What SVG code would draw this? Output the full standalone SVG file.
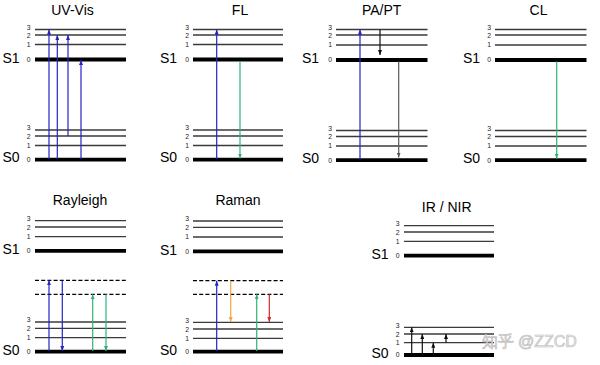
<svg xmlns="http://www.w3.org/2000/svg" width="600" height="365" viewBox="0 0 600 365">
<style>
  text { font-family: "Liberation Sans", Arial, sans-serif; fill: #000; }
  .title { font-size: 14px; text-anchor: middle; }
  .st { font-size: 14px; }
  .dg { font-size: 6.8px; text-anchor: end; fill: #222; }
  .thin { stroke: #3a3a3a; stroke-width: 1.3; fill: none; }
  .thick { stroke: #000; stroke-width: 3.8; fill: none; }
  .dash { stroke: #000; stroke-width: 1.2; stroke-dasharray: 4 2.2; fill: none; }
  .ar { stroke-width: 1.2; fill: none; }
  .blue { stroke: #2424c4; marker-end: url(#mBlue); }
  .green { stroke: #2fb279; marker-end: url(#mGreen); }
  .black { stroke: #111; marker-end: url(#mBlack); }
  .gray { stroke: #5a5a5a; marker-end: url(#mGray); }
  .orange { stroke: #f2a446; marker-end: url(#mOrange); }
  .red { stroke: #d42a2a; marker-end: url(#mRed); }
  .wm { font-size: 16px; fill: #ececec; stroke: #b8b8b8; stroke-width: 0.6; }
</style>
<defs>
  <marker id="mBlue" viewBox="0 0 10 8" refX="10" refY="4" markerWidth="5" markerHeight="4" markerUnits="userSpaceOnUse" orient="auto"><path d="M0,0 L10,4 L0,8 z" fill="#2424c4"/></marker>
  <marker id="mGreen" viewBox="0 0 10 8" refX="10" refY="4" markerWidth="5" markerHeight="4" markerUnits="userSpaceOnUse" orient="auto"><path d="M0,0 L10,4 L0,8 z" fill="#2fb279"/></marker>
  <marker id="mBlack" viewBox="0 0 10 8" refX="10" refY="4" markerWidth="5" markerHeight="4" markerUnits="userSpaceOnUse" orient="auto"><path d="M0,0 L10,4 L0,8 z" fill="#111"/></marker>
  <marker id="mGray" viewBox="0 0 10 8" refX="10" refY="4" markerWidth="5" markerHeight="4" markerUnits="userSpaceOnUse" orient="auto"><path d="M0,0 L10,4 L0,8 z" fill="#5a5a5a"/></marker>
  <marker id="mOrange" viewBox="0 0 10 8" refX="10" refY="4" markerWidth="5" markerHeight="4" markerUnits="userSpaceOnUse" orient="auto"><path d="M0,0 L10,4 L0,8 z" fill="#f2a446"/></marker>
  <marker id="mRed" viewBox="0 0 10 8" refX="10" refY="4" markerWidth="5" markerHeight="4" markerUnits="userSpaceOnUse" orient="auto"><path d="M0,0 L10,4 L0,8 z" fill="#d42a2a"/></marker>
</defs>

<!-- UV-Vis -->
<g id="uvvis">
  <text class="title" x="72.5" y="15">UV-Vis</text>
  <line class="thin" x1="35" y1="29.5" x2="126" y2="29.5"/>
  <line class="thin" x1="35" y1="35" x2="126" y2="35"/>
  <line class="thin" x1="35" y1="44.5" x2="126" y2="44.5"/>
  <line class="thick" x1="35" y1="59.5" x2="126" y2="59.5"/>
  <line class="thin" x1="35" y1="130" x2="126" y2="130"/>
  <line class="thin" x1="35" y1="136" x2="126" y2="136"/>
  <line class="thin" x1="35" y1="145.5" x2="126" y2="145.5"/>
  <line class="thick" x1="35" y1="159.7" x2="126" y2="159.7"/>
  <text class="dg" x="30.5" y="29.9">3</text><text class="dg" x="30.5" y="37.7">2</text><text class="dg" x="30.5" y="46.9">1</text><text class="dg" x="30.5" y="61.9">0</text>
  <text class="dg" x="30.5" y="130.4">3</text><text class="dg" x="30.5" y="138.7">2</text><text class="dg" x="30.5" y="147.9">1</text><text class="dg" x="30.5" y="162.1">0</text>
  <text class="st" x="2.5" y="62.7">S1</text>
  <text class="st" x="2.5" y="162">S0</text>
</g>

<!-- FL -->
<g id="fl">
  <text class="title" x="240" y="15">FL</text>
  <line class="thin" x1="193" y1="29.5" x2="283" y2="29.5"/>
  <line class="thin" x1="193" y1="35" x2="283" y2="35"/>
  <line class="thin" x1="193" y1="44.5" x2="283" y2="44.5"/>
  <line class="thick" x1="193" y1="59.5" x2="283" y2="59.5"/>
  <line class="thin" x1="193" y1="130" x2="283" y2="130"/>
  <line class="thin" x1="193" y1="136" x2="283" y2="136"/>
  <line class="thin" x1="193" y1="145.5" x2="283" y2="145.5"/>
  <line class="thick" x1="193" y1="159.7" x2="283" y2="159.7"/>
  <text class="dg" x="189" y="29.9">3</text><text class="dg" x="189" y="37.7">2</text><text class="dg" x="189" y="46.9">1</text><text class="dg" x="189" y="61.9">0</text>
  <text class="dg" x="189" y="130.4">3</text><text class="dg" x="189" y="138.7">2</text><text class="dg" x="189" y="147.9">1</text><text class="dg" x="189" y="162.1">0</text>
  <text class="st" x="160" y="62.7">S1</text>
  <text class="st" x="160" y="162">S0</text>
</g>

<!-- PA/PT -->
<g id="papt">
  <text class="title" x="381.7" y="15">PA/PT</text>
  <line class="thin" x1="336" y1="29.5" x2="427.5" y2="29.5"/>
  <line class="thin" x1="336" y1="35" x2="427.5" y2="35"/>
  <line class="thin" x1="336" y1="45" x2="427.5" y2="45"/>
  <line class="thick" x1="336" y1="60" x2="427.5" y2="60"/>
  <line class="thin" x1="336" y1="130.5" x2="427.5" y2="130.5"/>
  <line class="thin" x1="336" y1="136.5" x2="427.5" y2="136.5"/>
  <line class="thin" x1="336" y1="146" x2="427.5" y2="146"/>
  <line class="thick" x1="336" y1="160.2" x2="427.5" y2="160.2"/>
  <text class="dg" x="332" y="29.9">3</text><text class="dg" x="332" y="37.7">2</text><text class="dg" x="332" y="47.4">1</text><text class="dg" x="332" y="62.4">0</text>
  <text class="dg" x="332" y="130.9">3</text><text class="dg" x="332" y="139.2">2</text><text class="dg" x="332" y="148.4">1</text><text class="dg" x="332" y="162.6">0</text>
  <text class="st" x="302" y="63.2">S1</text>
  <text class="st" x="302" y="162.5">S0</text>
</g>

<!-- CL -->
<g id="cl">
  <text class="title" x="538.5" y="15">CL</text>
  <line class="thin" x1="495" y1="29.5" x2="586.5" y2="29.5"/>
  <line class="thin" x1="495" y1="35" x2="586.5" y2="35"/>
  <line class="thin" x1="495" y1="45" x2="586.5" y2="45"/>
  <line class="thick" x1="495" y1="60" x2="586.5" y2="60"/>
  <line class="thin" x1="495" y1="130.5" x2="586.5" y2="130.5"/>
  <line class="thin" x1="495" y1="136.5" x2="586.5" y2="136.5"/>
  <line class="thin" x1="495" y1="146" x2="586.5" y2="146"/>
  <line class="thick" x1="495" y1="160.2" x2="586.5" y2="160.2"/>
  <text class="dg" x="491" y="29.9">3</text><text class="dg" x="491" y="37.7">2</text><text class="dg" x="491" y="47.4">1</text><text class="dg" x="491" y="62.4">0</text>
  <text class="dg" x="491" y="130.9">3</text><text class="dg" x="491" y="139.2">2</text><text class="dg" x="491" y="148.4">1</text><text class="dg" x="491" y="162.6">0</text>
  <text class="st" x="463" y="63.2">S1</text>
  <text class="st" x="463" y="162.5">S0</text>
</g>

<!-- Rayleigh -->
<g id="rayleigh">
  <text class="title" x="80" y="204.5">Rayleigh</text>
  <line class="thin" x1="35" y1="220.7" x2="126" y2="220.7"/>
  <line class="thin" x1="35" y1="227" x2="126" y2="227"/>
  <line class="thin" x1="35" y1="236.7" x2="126" y2="236.7"/>
  <line class="thick" x1="35" y1="250.8" x2="126" y2="250.8"/>
  <line class="dash" x1="35" y1="280.3" x2="126" y2="280.3"/>
  <line class="dash" x1="35" y1="294.3" x2="126" y2="294.3"/>
  <line class="thin" x1="35" y1="322" x2="126" y2="322"/>
  <line class="thin" x1="35" y1="328.3" x2="126" y2="328.3"/>
  <line class="thin" x1="35" y1="337.7" x2="126" y2="337.7"/>
  <line class="thick" x1="35" y1="351.7" x2="126" y2="351.7"/>
  <text class="dg" x="30.5" y="221.1">3</text><text class="dg" x="30.5" y="229.7">2</text><text class="dg" x="30.5" y="239.1">1</text><text class="dg" x="30.5" y="253.2">0</text>
  <text class="dg" x="30.5" y="322.4">3</text><text class="dg" x="30.5" y="331">2</text><text class="dg" x="30.5" y="340.1">1</text><text class="dg" x="30.5" y="354.1">0</text>
  <text class="st" x="2.5" y="254">S1</text>
  <text class="st" x="2.5" y="355">S0</text>
</g>

<!-- Raman -->
<g id="raman">
  <text class="title" x="238" y="204.5">Raman</text>
  <line class="thin" x1="193" y1="221" x2="283" y2="221"/>
  <line class="thin" x1="193" y1="227.3" x2="283" y2="227.3"/>
  <line class="thin" x1="193" y1="237" x2="283" y2="237"/>
  <line class="thick" x1="193" y1="251.3" x2="283" y2="251.3"/>
  <line class="dash" x1="193" y1="280.7" x2="283" y2="280.7"/>
  <line class="dash" x1="193" y1="294.3" x2="283" y2="294.3"/>
  <line class="thin" x1="193" y1="322.3" x2="283" y2="322.3"/>
  <line class="thin" x1="193" y1="329" x2="283" y2="329"/>
  <line class="thin" x1="193" y1="338.3" x2="283" y2="338.3"/>
  <line class="thick" x1="193" y1="351.7" x2="283" y2="351.7"/>
  <text class="dg" x="189" y="221.4">3</text><text class="dg" x="189" y="230">2</text><text class="dg" x="189" y="239.4">1</text><text class="dg" x="189" y="253.7">0</text>
  <text class="dg" x="189" y="322.7">3</text><text class="dg" x="189" y="331.7">2</text><text class="dg" x="189" y="340.7">1</text><text class="dg" x="189" y="354.1">0</text>
  <text class="st" x="160" y="255">S1</text>
  <text class="st" x="160" y="355">S0</text>
</g>

<!-- IR / NIR -->
<g id="irnir">
  <text class="title" x="446.7" y="211.5">IR / NIR</text>
  <line class="thin" x1="404" y1="225.7" x2="494" y2="225.7"/>
  <line class="thin" x1="404" y1="232" x2="494" y2="232"/>
  <line class="thin" x1="404" y1="241.3" x2="494" y2="241.3"/>
  <line class="thick" x1="404" y1="255.7" x2="494" y2="255.7"/>
  <line class="thin" x1="404" y1="327.3" x2="494" y2="327.3"/>
  <line class="thin" x1="404" y1="334" x2="494" y2="334"/>
  <line class="thin" x1="404" y1="342.7" x2="494" y2="342.7"/>
  <line class="thick" x1="404" y1="355" x2="494" y2="355"/>
  <text class="dg" x="399.5" y="226.1">3</text><text class="dg" x="399.5" y="234.7">2</text><text class="dg" x="399.5" y="243.7">1</text><text class="dg" x="399.5" y="258.1">0</text>
  <text class="dg" x="399.5" y="327.7">3</text><text class="dg" x="399.5" y="336.7">2</text><text class="dg" x="399.5" y="345.1">1</text><text class="dg" x="399.5" y="357.4">0</text>
  <text class="st" x="371.5" y="259">S1</text>
  <text class="st" x="371.5" y="357.5">S0</text>
</g>

<!-- connectors -->
<g id="connectors">
  <!-- UV-Vis -->
  <line class="ar blue" x1="49" y1="159" x2="49" y2="29.5"/>
  <line class="ar blue" x1="57.3" y1="159" x2="57.3" y2="35"/>
  <line class="ar blue" x1="68" y1="136" x2="68" y2="35"/>
  <line class="ar blue" x1="81" y1="159" x2="81" y2="60"/>
  <!-- FL -->
  <line class="ar blue" x1="216.7" y1="159" x2="216.7" y2="29.5"/>
  <line class="ar green" x1="240" y1="61" x2="240" y2="158.5"/>
  <!-- PA/PT -->
  <line class="ar blue" x1="360" y1="159.5" x2="360" y2="29.5"/>
  <line class="ar black" x1="380" y1="29.5" x2="380" y2="55"/>
  <line class="ar gray" x1="398.7" y1="61.5" x2="398.7" y2="157.5"/>
  <!-- CL -->
  <line class="ar green" x1="556.7" y1="61.5" x2="556.7" y2="158.5"/>
  <!-- Rayleigh -->
  <line class="ar blue" x1="49" y1="351" x2="49" y2="280.3"/>
  <line class="ar blue" x1="62.3" y1="280.3" x2="62.3" y2="351"/>
  <line class="ar green" x1="92.7" y1="351" x2="92.7" y2="294.3"/>
  <line class="ar green" x1="106" y1="294.3" x2="106" y2="351"/>
  <!-- Raman -->
  <line class="ar blue" x1="216.7" y1="351" x2="216.7" y2="280.7"/>
  <line class="ar orange" x1="230.7" y1="280.7" x2="230.7" y2="322"/>
  <line class="ar green" x1="256.7" y1="351" x2="256.7" y2="294.3"/>
  <line class="ar red" x1="269.3" y1="294.3" x2="269.3" y2="322"/>
  <!-- IR / NIR -->
  <line class="ar black" x1="411.7" y1="354" x2="411.7" y2="327.3"/>
  <line class="ar black" x1="422.3" y1="354" x2="422.3" y2="334"/>
  <line class="ar black" x1="433.3" y1="354" x2="433.3" y2="342.7"/>
  <line class="ar black" x1="446" y1="342.7" x2="446" y2="334"/>
</g>

<text class="wm" x="481.5" y="347" font-family="'Liberation Sans', 'Noto Sans CJK SC', sans-serif">知乎 @ZZCD</text>
</svg>
